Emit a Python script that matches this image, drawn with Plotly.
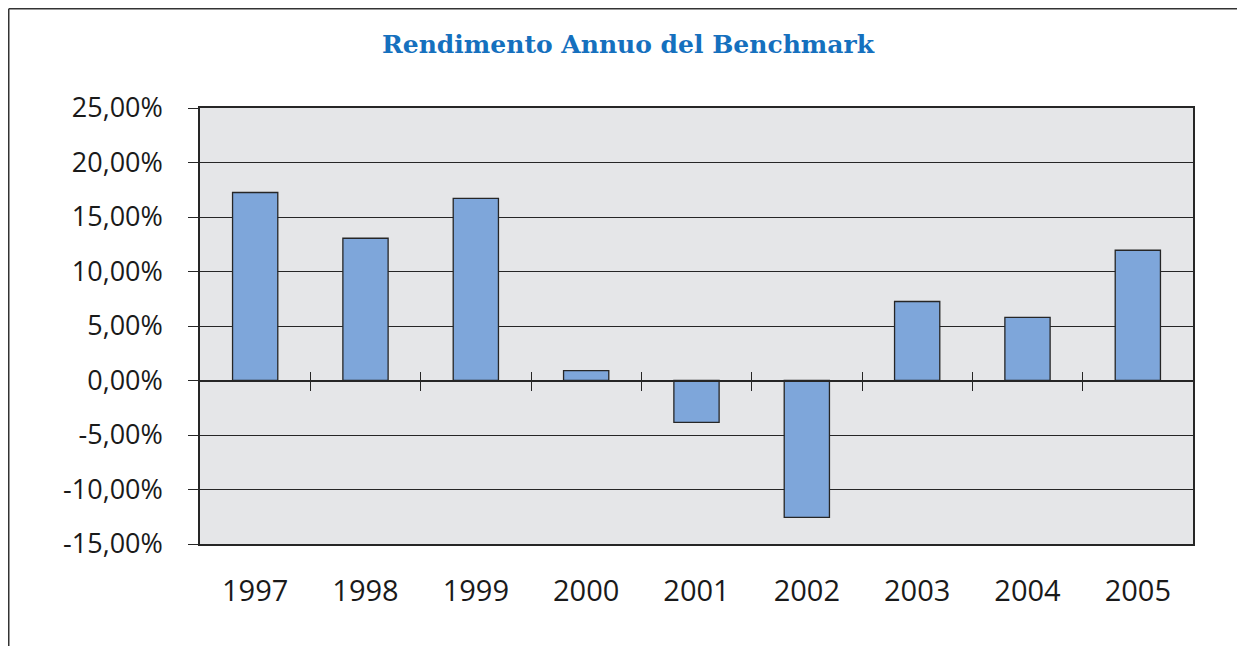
import plotly.graph_objects as go

years = ["1997", "1998", "1999", "2000", "2001", "2002", "2003", "2004", "2005"]
returns = [17.25, 13.05, 16.7, 0.9, -3.85, -12.55, 7.25, 5.8, 11.95]
y_tickvals = [25, 20, 15, 10, 5, 0, -5, -10, -15]
y_ticktext = ["25,00%", "20,00%", "15,00%", "10,00%", "5,00%", "0,00%", "-5,00%", "-10,00%", "-15,00%"]
title = "Rendimento Annuo del Benchmark"

ymin, ymax = -15, 25
zero_pos = (0 - ymin) / (ymax - ymin)
n = len(years)
boundaries = [i + 0.5 for i in range(n - 1)]

W, H = 1245, 646
L, R, T, B = 192, 60, 100, 110
pw, ph = W - L - R, H - T - B

dark = "#262626"
ytickfont = dict(family="Open Sans", size=27, color="#1a1a1a")
xtickfont = dict(family="Open Sans", size=29, color="#1a1a1a")

fig = go.Figure()
fig.add_trace(go.Bar(
    x=list(range(n)), y=returns, width=0.41,
    marker=dict(color="#7ea6da", line=dict(color=dark, width=1.3)),
    hoverinfo="skip", showlegend=False,
))
fig.add_trace(go.Scatter(x=[None], y=[None], xaxis="x2", showlegend=False, hoverinfo="skip"))
fig.add_trace(go.Scatter(x=[None], y=[None], xaxis="x3", showlegend=False, hoverinfo="skip"))

fig.update_layout(
    width=W, height=H,
    margin=dict(l=L, r=R, t=T, b=B),
    paper_bgcolor="white", plot_bgcolor="#e5e6e8",
    title=dict(text="<b>" + title + "</b>", x=620 / W, xanchor="center", y=1 - 36 / H, yanchor="middle",
               font=dict(family="DejaVu Serif", size=25, color="#1570be")),
    xaxis=dict(range=[-0.5, n - 0.5], tickvals=list(range(n)), ticktext=years,
               showline=True, mirror=True, linecolor=dark, linewidth=1.5,
               showgrid=False, zeroline=False, ticks="", tickfont=xtickfont,
               ticklabelstandoff=20),
    xaxis2=dict(overlaying="x", anchor="free", position=zero_pos, range=[-0.5, n - 0.5],
                tickvals=boundaries, ticks="outside", ticklen=10, tickcolor=dark, tickwidth=1.3,
                showline=True, linecolor=dark, linewidth=1.5, showticklabels=False,
                showgrid=False, zeroline=False),
    xaxis3=dict(overlaying="x", anchor="free", position=zero_pos, range=[-0.5, n - 0.5],
                tickvals=boundaries, ticks="inside", ticklen=9, tickcolor=dark, tickwidth=1.3,
                showline=False, showticklabels=False, showgrid=False, zeroline=False),
    yaxis=dict(range=[ymin, ymax], tickvals=y_tickvals, ticktext=y_ticktext,
               showgrid=True, gridcolor=dark, gridwidth=1.3,
               ticks="outside", ticklen=10, tickcolor=dark, tickwidth=1.3,
               showline=True, mirror=True, linecolor=dark, linewidth=1.5,
               zeroline=False, tickfont=ytickfont, ticklabelstandoff=20),
    bargap=0.59,
)

# outer frame (top and left edges)
fx = (0.75 - L) / pw
fy = (H - B - 0.75) / ph
fig.add_shape(type="line", xref="paper", yref="paper", x0=fx, x1=1.2, y0=fy, y1=fy,
              line=dict(color="#333", width=1.5))
fig.add_shape(type="line", xref="paper", yref="paper", x0=fx, x1=fx, y0=fy, y1=-0.4,
              line=dict(color="#333", width=1.5))

fig.write_html("out.html")
